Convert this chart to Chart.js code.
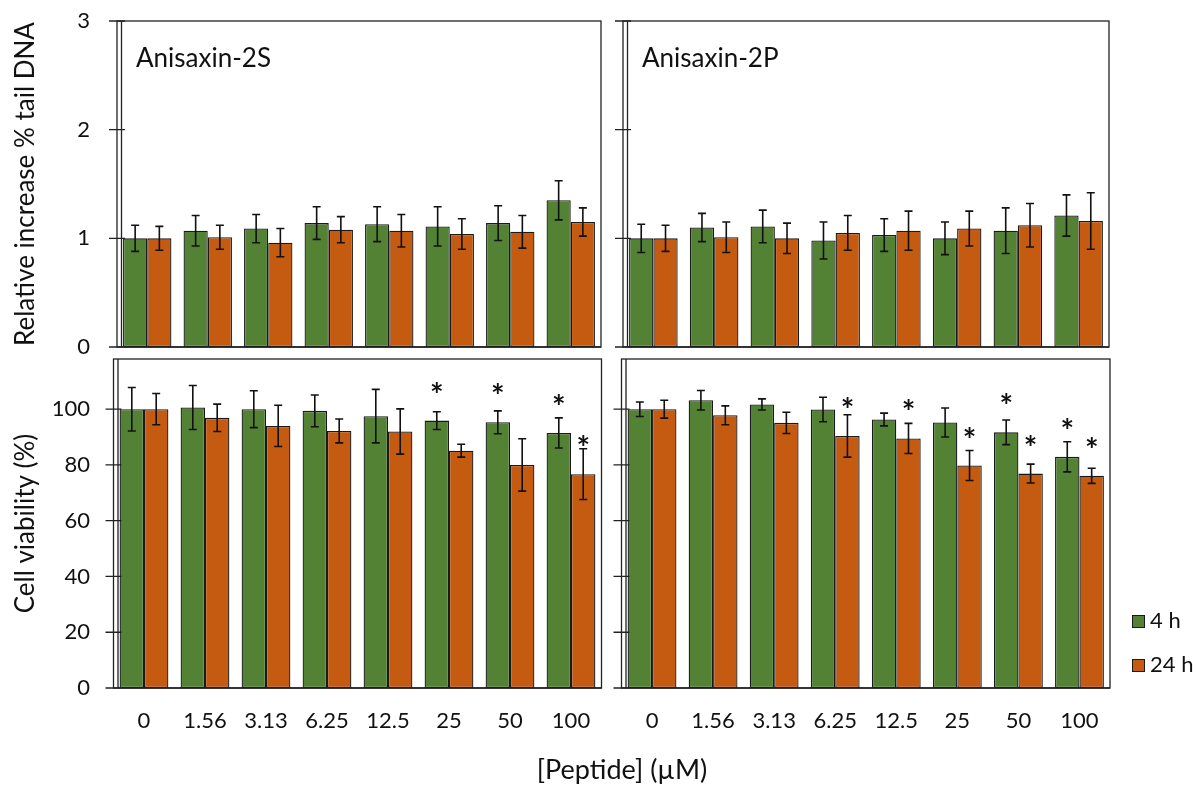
<!DOCTYPE html>
<html>
<head>
<meta charset="utf-8">
<title>Anisaxin-2S / Anisaxin-2P genotoxicity and viability</title>
<script src="https://cdn.jsdelivr.net/npm/chart.js@4.4.1/dist/chart.umd.min.js"></script>
<style>
  html, body { margin: 0; padding: 0; background: #fff; }
  #wrap { position: relative; width: 1197px; height: 785px; font-family: Lato, "Open Sans", sans-serif; color: #111; }
  #wrap canvas { position: absolute; left: 0; top: 0; }
  #xtitle { position: absolute; left: 422px; width: 400px; top: 753px; text-align: center; font-size: 27px; line-height: 32px; }
  .leg { position: absolute; left: 1132px; font-size: 22px; line-height: 24px; white-space: nowrap; }
  .leg span.sw { display: inline-block; width: 11px; height: 11px; border: 1.5px solid #1a1a1a; margin-right: 5px; vertical-align: 0px; }
</style>
</head>
<body>
<div id="wrap">
  <canvas id="tl" width="1197" height="785"></canvas>
  <canvas id="tr" width="1197" height="785"></canvas>
  <canvas id="bl" width="1197" height="785"></canvas>
  <canvas id="br" width="1197" height="785"></canvas>
  <div id="xtitle">[Peptide] (µM)</div>
  <div id="legend"></div>
</div>
<script>
// peptide concentrations (µM)
const doses = ['0', '1.56', '3.13', '6.25', '12.5', '25', '50', '100'];
const seriesNames = ['4 h', '24 h'];
const seriesColors = ['#548235', '#C55A11'];

// comet assay, relative increase of % tail DNA
const tail2S_4h     = [1.00, 1.07, 1.09, 1.14, 1.13, 1.11, 1.14, 1.35];
const tail2S_4h_sd  = [0.12, 0.14, 0.13, 0.15, 0.16, 0.18, 0.16, 0.18];
const tail2S_24h    = [1.00, 1.01, 0.96, 1.08, 1.07, 1.04, 1.06, 1.15];
const tail2S_24h_sd = [0.11, 0.11, 0.13, 0.12, 0.15, 0.14, 0.15, 0.13];
const tail2P_4h     = [1.00, 1.10, 1.11, 0.98, 1.03, 1.00, 1.07, 1.21];
const tail2P_4h_sd  = [0.13, 0.13, 0.15, 0.17, 0.15, 0.15, 0.21, 0.19];
const tail2P_24h    = [1.00, 1.01, 1.00, 1.05, 1.07, 1.09, 1.12, 1.16];
const tail2P_24h_sd = [0.12, 0.14, 0.14, 0.16, 0.18, 0.16, 0.20, 0.26];

// cell viability (%)
const via2S_4h     = [100, 100.6, 100, 99.4, 97.5, 95.9, 95.3, 91.5];
const via2S_4h_sd  = [7.8, 7.9, 6.6, 5.7, 9.6, 3.2, 4.1, 5.4];
const via2S_24h    = [100, 96.9, 94.0, 92.2, 92.0, 85.1, 80.0, 76.7];
const via2S_24h_sd = [5.6, 4.9, 7.4, 4.3, 8.1, 2.3, 9.4, 9.1];
const via2P_4h     = [100, 103.2, 101.7, 99.9, 96.3, 95.2, 91.7, 82.9];
const via2P_4h_sd  = [2.6, 3.5, 2.0, 4.4, 2.3, 5.2, 4.4, 5.4];
const via2P_24h    = [100, 97.8, 95.1, 90.4, 89.5, 79.8, 76.9, 76.1];
const via2P_24h_sd = [3.2, 3.4, 3.8, 7.6, 5.4, 5.4, 3.4, 2.7];

// significant vs. control (1 = marked with *)
const sig2S_4h  = [0, 0, 0, 0, 0, 1, 1, 1];
const sig2S_24h = [0, 0, 0, 0, 0, 0, 0, 1];
const sig2P_4h  = [0, 0, 0, 0, 0, 0, 1, 1];
const sig2P_24h = [0, 0, 0, 1, 1, 1, 1, 1];

const W = 1197, H = 785;
const FONT = 'Lato';
const INK = '#111';
Chart.defaults.font.family = FONT;
Chart.defaults.color = INK;

// frame, crossing ticks, error bars, asterisks and panel name
const panelDecor = {
  id: 'panelDecor',
  afterDatasetsDraw(chart, args, opts) {
    const ctx = chart.ctx;
    const a = chart.chartArea;
    const ys = chart.scales.y;
    ctx.save();

    ctx.strokeStyle = '#111';
    ctx.lineWidth = 1.6;
    chart.data.datasets.forEach((ds, d) => {
      const meta = chart.getDatasetMeta(d);
      meta.data.forEach((bar, i) => {
        const v = ds.data[i], e = ds.errors[i];
        const y1 = ys.getPixelForValue(v + e);
        const y2 = ys.getPixelForValue(v - e);
        ctx.beginPath();
        ctx.moveTo(bar.x, y1); ctx.lineTo(bar.x, y2);
        ctx.moveTo(bar.x - 4, y1); ctx.lineTo(bar.x + 4, y1);
        ctx.moveTo(bar.x - 4, y2); ctx.lineTo(bar.x + 4, y2);
        ctx.stroke();
        if (ds.signif && ds.signif[i]) {
          ctx.fillStyle = INK;
          ctx.font = 'bold 32px ' + FONT;
          ctx.textAlign = 'center';
          ctx.textBaseline = 'alphabetic';
          ctx.fillText('*', bar.x, ys.getPixelForValue(v) - 14);
        }
      });
    });

    ctx.strokeStyle = '#222';
    ctx.lineWidth = 1.3;
    ctx.strokeRect(a.left, a.top, a.right - a.left, a.bottom - a.top);
    ctx.beginPath();
    ctx.moveTo(a.left - 8, a.bottom); ctx.lineTo(a.right, a.bottom);
    ctx.moveTo(a.left + 4.5, a.top); ctx.lineTo(a.left + 4.5, a.bottom);
    ys.ticks.forEach(t => {
      const y = ys.getPixelForValue(t.value);
      ctx.moveTo(a.left - 8, y); ctx.lineTo(a.left + 8, y);
    });
    ctx.stroke();

    if (opts.label) {
      ctx.fillStyle = INK;
      ctx.font = '26px ' + FONT;
      ctx.textAlign = 'left';
      ctx.textBaseline = 'alphabetic';
      ctx.fillText(opts.label, a.left + 19, a.top + 46);
    }
    ctx.restore();
  }
};

function makePanel(id, p) {
  const xH = p.showX ? 60 : 0;
  const datasets = p.series.map((s, k) => ({
    label: seriesNames[k],
    data: s.values,
    errors: s.errors,
    signif: s.signif,
    backgroundColor: seriesColors[k],
    borderColor: '#1a1a1a',
    borderWidth: 1.3,
    borderSkipped: false,
    barPercentage: 1,
    categoryPercentage: 0.8
  }));
  return new Chart(document.getElementById(id), {
    type: 'bar',
    data: { labels: doses, datasets },
    plugins: [panelDecor],
    options: {
      responsive: false,
      animation: false,
      devicePixelRatio: 1,
      layout: {
        padding: { left: 0, top: p.area.top, right: W - p.area.right, bottom: H - p.area.bottom - xH }
      },
      plugins: {
        legend: { display: false },
        tooltip: { enabled: false },
        panelDecor: { label: p.label }
      },
      scales: {
        x: {
          display: p.showX,
          grid: { display: false, drawTicks: false },
          border: { display: false },
          ticks: { font: { size: 22 }, padding: 20, maxRotation: 0, autoSkip: false },
          afterFit: s => { s.height = xH; }
        },
        y: {
          min: p.yMin,
          max: p.yMax,
          grid: { display: false, drawTicks: false },
          border: { display: false },
          ticks: {
            display: p.showY,
            stepSize: p.step,
            includeBounds: false,
            font: { size: 22 },
            padding: p.area.left - 90
          },
          title: {
            display: !!p.yTitle,
            text: p.yTitle || '',
            font: { size: 26 },
            padding: { top: 10, bottom: 0 }
          },
          // fixed axis width so every panel lines up; the tick padding
          // must not push the plot area down
          afterFit: s => {
            s.width = p.area.left;
            s.paddingTop = 0;
            s.paddingBottom = 0;
          }
        }
      }
    }
  });
}

makePanel('tl', {
  area: { left: 117, right: 601, top: 21, bottom: 347 },
  yMin: 0, yMax: 3, step: 1, showY: true, showX: false,
  yTitle: 'Relative increase % tail DNA', label: 'Anisaxin-2S',
  series: [
    { values: tail2S_4h, errors: tail2S_4h_sd },
    { values: tail2S_24h, errors: tail2S_24h_sd }
  ]
});
makePanel('tr', {
  area: { left: 623, right: 1109, top: 21, bottom: 347 },
  yMin: 0, yMax: 3, step: 1, showY: false, showX: false,
  label: 'Anisaxin-2P',
  series: [
    { values: tail2P_4h, errors: tail2P_4h_sd },
    { values: tail2P_24h, errors: tail2P_24h_sd }
  ]
});
makePanel('bl', {
  area: { left: 113.5, right: 601.5, top: 359, bottom: 688 },
  yMin: 0, yMax: 118, step: 20, showY: true, showX: true,
  yTitle: 'Cell viability (%)',
  series: [
    { values: via2S_4h, errors: via2S_4h_sd, signif: sig2S_4h },
    { values: via2S_24h, errors: via2S_24h_sd, signif: sig2S_24h }
  ]
});
makePanel('br', {
  area: { left: 621.5, right: 1110, top: 359, bottom: 688 },
  yMin: 0, yMax: 118, step: 20, showY: false, showX: true,
  series: [
    { values: via2P_4h, errors: via2P_4h_sd, signif: sig2P_4h },
    { values: via2P_24h, errors: via2P_24h_sd, signif: sig2P_24h }
  ]
});

// legend built from the series names and colours
const legend = document.getElementById('legend');
seriesNames.forEach((name, k) => {
  const d = document.createElement('div');
  d.className = 'leg';
  d.style.top = (608 + k * 44) + 'px';
  d.innerHTML = '<span class="sw" style="background:' + seriesColors[k] + '"></span>' + name;
  legend.appendChild(d);
});
</script>
</body>
</html>
